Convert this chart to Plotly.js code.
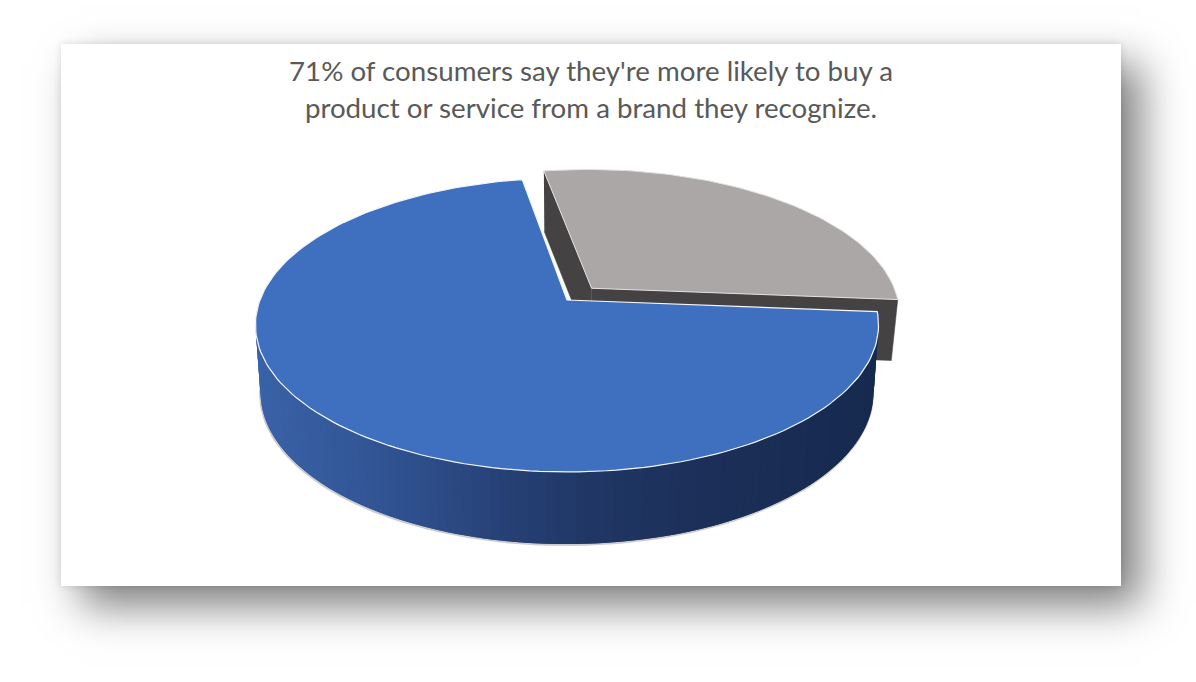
<!DOCTYPE html>
<html><head><meta charset="utf-8">
<script src="https://cdn.plot.ly/plotly-3.0.1.min.js"></script>
<style>
html,body{margin:0;padding:0;background:#fff;width:1196px;height:682px;overflow:hidden}
#chart{position:absolute;left:61px;top:44px;width:1060px;height:542px;background:#fff;
box-shadow:20px 20px 40px rgba(0,0,0,.5),0 0 7px rgba(0,0,0,.12)}
</style></head><body><div id="chart"></div>
<script>
const categories = ['More likely to buy from a recognized brand', 'Other consumers'];
const values = [71, 29];
const sliceColors = ['#3f6fbf', '#aaa7a6'];
const wallColor = '#444242';
const chartTitle = "71% of consumers say they're more likely to buy a<br>product or service from a brand they recognize.";

// view of the tilted pie (page pixels)
const firstAngle = 94.6, explode = 0.113, explodeNudge = 0.005;
const topPlane = {cx: 567, cy: 300, rx: 307, ky: 142.7, p: 0.17};
const basePlane = {cx: 567, cy: 367, rx: 302, ky: 147, p: 0.17};
const grayBasePlane = {cx: 567, cy: 361, rx: 301, ky: 143, p: 0.17};
const shade = [[255,[58,98,168]],[400,[47,80,142]],[500,[38,64,116]],[600,[31,53,98]],[700,[27,47,88]],[880,[22,42,80]]];

const total = values.reduce((a, b) => a + b, 0);
const rad = d => d * Math.PI / 180;
function proj(pl, u, v) {
  const w = 1 - pl.p * v;
  return [pl.cx + pl.rx * u / w, pl.cy + pl.ky * v / w];
}
function rim(pl, a, ou, ov) {
  return proj(pl, Math.sin(rad(a)) + ou, -Math.cos(rad(a)) + ov);
}
function shadeAt(x) {
  for (let i = 1; i < shade.length; i++) {
    if (x <= shade[i][0]) {
      const t = Math.max(0, (x - shade[i-1][0]) / (shade[i][0] - shade[i-1][0]));
      const c = shade[i-1][1].map((s, k) => Math.round(s + (shade[i][1][k] - s) * t));
      return `rgb(${c.join(',')})`;
    }
  }
  return `rgb(${shade[shade.length-1][1].join(',')})`;
}
function poly(pts, fill, line, width, name) {
  return {type: 'scatter', mode: 'lines', x: pts.map(p => p[0]), y: pts.map(p => p[1]),
    fill: fill ? 'toself' : 'none', fillcolor: fill || undefined,
    line: {color: line || fill, width: width === undefined ? 0 : width},
    hoverinfo: 'skip', showlegend: false, name: name || ''};
}
function arc(pl, a0, a1, ou, ov) {
  const n = Math.max(2, Math.ceil(Math.abs(a1 - a0) / 1.5)), out = [];
  for (let i = 0; i <= n; i++) out.push(rim(pl, a0 + (a1 - a0) * i / n, ou, ov));
  return out;
}

const sweepBlue = values[0] / total * 360;
const sweepGray = values[1] / total * 360;
const blueStart = firstAngle, blueEnd = firstAngle + sweepBlue;
const grayStart = blueEnd - 360, grayEnd = grayStart + sweepGray;
const mid = rad((grayStart + grayEnd) / 2);
const ou = Math.sin(mid) * explode + explodeNudge, ov = -Math.cos(mid) * explode;

const traces = [];
// exploded grey slice: walls then top
traces.push(poly([rim(topPlane, grayStart, ou, ov), proj(topPlane, ou, ov), proj(grayBasePlane, ou, ov), rim(grayBasePlane, grayStart, ou, ov)], wallColor, wallColor, 0.5));
traces.push(poly([proj(topPlane, ou, ov), rim(topPlane, grayEnd, ou, ov), rim(grayBasePlane, grayEnd, ou, ov), proj(grayBasePlane, ou, ov)], wallColor, wallColor, 0.5));
traces.push(poly([proj(topPlane, ou, ov)].concat(arc(topPlane, grayStart, grayEnd, ou, ov), [proj(topPlane, ou, ov)]), sliceColors[1], '#e4e2e1', 1, categories[1]));
// soft edge under the blue slice
traces.push(poly(arc(basePlane, blueStart + 6, 276, 0, 0).map(p => [p[0] - 0.5, p[1] + 1]), null, 'rgba(90,90,90,.3)', 2));
// blue outer wall in narrow overlapping strips, so no seams show
const step = 1.5;
for (let a = blueStart; a < 278; a += step) {
  const b = Math.min(a + step, 278);
  const back = Math.max(a - step, blueStart);
  const pts = [rim(topPlane, back, 0, 0), rim(topPlane, a, 0, 0), rim(topPlane, b, 0, 0), rim(basePlane, b, 0, 0), rim(basePlane, a, 0, 0), rim(basePlane, back, 0, 0)];
  const mx = (rim(topPlane, a, 0, 0)[0] + rim(topPlane, b, 0, 0)[0]) / 2;
  traces.push(poly(pts, shadeAt(mx), 'rgba(0,0,0,0)', 0));
}
// blue top
traces.push(poly([proj(topPlane, 0, 0)].concat(arc(topPlane, blueStart, blueEnd, 0, 0), [proj(topPlane, 0, 0)]), sliceColors[0], '#f4f6fa', 1.2, categories[0]));

const layout = {
  width: 1060, height: 542, autosize: false,
  margin: {l: 0, r: 0, t: 0, b: 0},
  paper_bgcolor: 'rgba(0,0,0,0)', plot_bgcolor: 'rgba(0,0,0,0)',
  showlegend: false,
  title: {text: '<span style="font-size:27.7px">' + chartTitle.replace('<br>', '</span><br><span style="font-size:27.7px">') + '</span>',
    font: {family: 'Lato, "Open Sans", sans-serif', size: 28.5, color: '#595959'},
    x: 0.5, xanchor: 'center', xref: 'paper', y: 0.932, yanchor: 'top', yref: 'container', automargin: false},
  xaxis: {range: [61, 1121], visible: false, fixedrange: true},
  yaxis: {range: [586, 44], visible: false, fixedrange: true}
};
Plotly.newPlot('chart', traces, layout, {displayModeBar: false, staticPlot: true});
</script></body></html>
